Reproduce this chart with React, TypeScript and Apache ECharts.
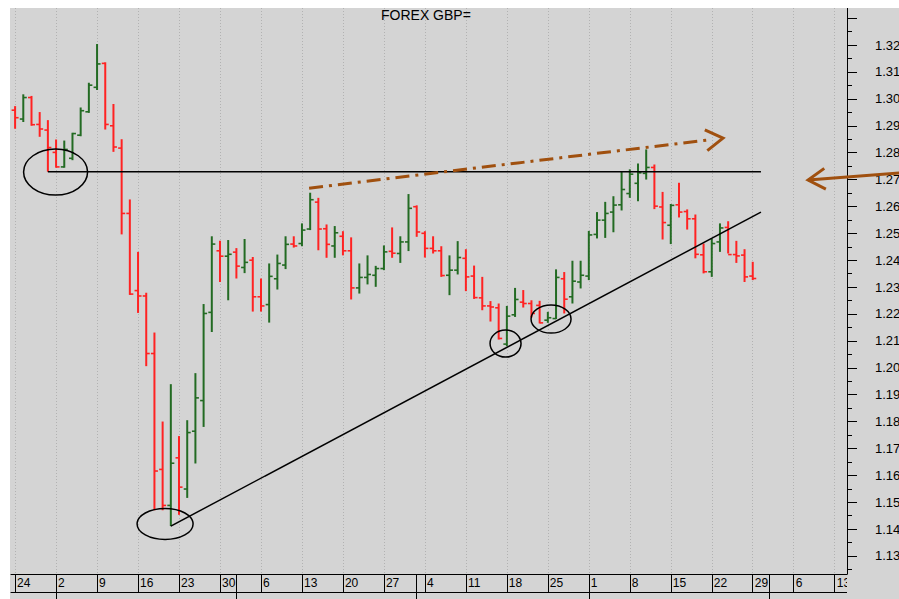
import React, { useEffect, useRef } from 'react';
import * as echarts from 'echarts';

// ---- categories (trading days, padded to the right edge of the axis) ----
const dates: string[] = [
  '2020-02-24', '2020-02-25', '2020-02-26', '2020-02-27', '2020-02-28',
  '2020-03-02', '2020-03-03', '2020-03-04', '2020-03-05', '2020-03-06',
  '2020-03-09', '2020-03-10', '2020-03-11', '2020-03-12', '2020-03-13',
  '2020-03-16', '2020-03-17', '2020-03-18', '2020-03-19', '2020-03-20',
  '2020-03-23', '2020-03-24', '2020-03-25', '2020-03-26', '2020-03-27',
  '2020-03-30', '2020-03-31', '2020-04-01', '2020-04-02', '2020-04-03',
  '2020-04-06', '2020-04-07', '2020-04-08', '2020-04-09', '2020-04-10',
  '2020-04-13', '2020-04-14', '2020-04-15', '2020-04-16', '2020-04-17',
  '2020-04-20', '2020-04-21', '2020-04-22', '2020-04-23', '2020-04-24',
  '2020-04-27', '2020-04-28', '2020-04-29', '2020-04-30', '2020-05-01',
  '2020-05-04', '2020-05-05', '2020-05-06', '2020-05-07', '2020-05-08',
  '2020-05-11', '2020-05-12', '2020-05-13', '2020-05-14', '2020-05-15',
  '2020-05-18', '2020-05-19', '2020-05-20', '2020-05-21', '2020-05-22',
  '2020-05-25', '2020-05-26', '2020-05-27', '2020-05-28', '2020-05-29',
  '2020-06-01', '2020-06-02', '2020-06-03', '2020-06-04', '2020-06-05',
  '2020-06-08', '2020-06-09', '2020-06-10', '2020-06-11', '2020-06-12',
  '2020-06-15', '2020-06-16', '2020-06-17', '2020-06-18', '2020-06-19',
  '2020-06-22', '2020-06-23', '2020-06-24', '2020-06-25', '2020-06-26',
  '2020-06-29', '2020-06-30', '2020-07-01', '2020-07-02', '2020-07-03',
  '2020-07-06', '2020-07-07', '2020-07-08', '2020-07-09', '2020-07-10',
  '2020-07-13', '2020-07-14',
];

// ---- OHLC values ----
const opens: number[] = [
  1.2958, 1.2925, 1.3005, 1.2905, 1.2884,
  1.2801, 1.2747, 1.2779, 1.2865, 1.2952,
  1.3043, 1.3132, 1.2900, 1.2817, 1.2574,
  1.2287, 1.2267, 1.2053, 1.1622, 1.1488,
  1.1665, 1.1549, 1.1764, 1.1878, 1.2206,
  1.2435, 1.2415, 1.2430, 1.2373, 1.2400,
  1.2264, 1.2235, 1.2331, 1.2382, 1.2460,
  1.2462, 1.2516, 1.2616, 1.2517, 1.2453,
  1.2489, 1.2435, 1.2297, 1.2336, 1.2344,
  1.2369, 1.2433, 1.2425, 1.2468, 1.2599,
  1.2500, 1.2444, 1.2435, 1.2344, 1.2363,
  1.2407, 1.2341, 1.2260, 1.2230, 1.2223,
  1.2088, 1.2197, 1.2244, 1.2239, 1.2232,
  1.2177, 1.2183, 1.2331, 1.2264, 1.2319,
  1.2341, 1.2496, 1.2549, 1.2579, 1.2606,
  1.2648, 1.2686, 1.2723, 1.2745, 1.2598,
  1.2530, 1.2606, 1.2581, 1.2554, 1.2420,
  1.2357, 1.2468, 1.2522, 1.2421, 1.2419,
  1.2341,
];
const highs: number[] = [
  1.2973, 1.3017, 1.3011, 1.2951, 1.2921,
  1.2849, 1.2845, 1.2874, 1.2968, 1.3060,
  1.3204, 1.3136, 1.2981, 1.2850, 1.2626,
  1.2431, 1.2279, 1.2131, 1.1800, 1.1939,
  1.1746, 1.1805, 1.1980, 1.2237, 1.2489,
  1.2472, 1.2475, 1.2445, 1.2479, 1.2412,
  1.2332, 1.2388, 1.2421, 1.2489, 1.2489,
  1.2537, 1.2651, 1.2632, 1.2533, 1.2527,
  1.2508, 1.2485, 1.2388, 1.2418, 1.2379,
  1.2455, 1.2522, 1.2489, 1.2646, 1.2604,
  1.2508, 1.2489, 1.2452, 1.2418, 1.2471,
  1.2441, 1.2380, 1.2338, 1.2248, 1.2239,
  1.2230, 1.2297, 1.2289, 1.2251, 1.2249,
  1.2208, 1.2366, 1.2356, 1.2398, 1.2398,
  1.2509, 1.2579, 1.2617, 1.2638, 1.2729,
  1.2738, 1.2760, 1.2812, 1.2756, 1.2654,
  1.2609, 1.2688, 1.2589, 1.2570, 1.2462,
  1.2481, 1.2537, 1.2545, 1.2472, 1.2441,
  1.2394,
];
const lows: number[] = [
  1.2889, 1.2914, 1.2900, 1.2859, 1.2729,
  1.2744, 1.2744, 1.2772, 1.2861, 1.2948,
  1.3033, 1.2886, 1.2803, 1.2496, 1.2271,
  1.2204, 1.2006, 1.1470, 1.1470, 1.1411,
  1.1453, 1.1516, 1.1644, 1.1780, 1.2133,
  1.2319, 1.2251, 1.2332, 1.2352, 1.2209,
  1.2209, 1.2168, 1.2291, 1.2367, 1.2447,
  1.2452, 1.2512, 1.2437, 1.2409, 1.2409,
  1.2418, 1.2254, 1.2276, 1.2310, 1.2301,
  1.2363, 1.2409, 1.2390, 1.2434, 1.2487,
  1.2410, 1.2425, 1.2338, 1.2270, 1.2347,
  1.2285, 1.2256, 1.2214, 1.2172, 1.2105,
  1.2080, 1.2189, 1.2224, 1.2187, 1.2165,
  1.2167, 1.2181, 1.2202, 1.2239, 1.2295,
  1.2326, 1.2481, 1.2483, 1.2504, 1.2585,
  1.2632, 1.2619, 1.2700, 1.2590, 1.2477,
  1.2460, 1.2559, 1.2514, 1.2407, 1.2351,
  1.2338, 1.2431, 1.2425, 1.2390, 1.2319,
  1.2326,
];
const closes: number[] = [
  1.2930, 1.3005, 1.2904, 1.2888, 1.2819,
  1.2747, 1.2812, 1.2871, 1.2956, 1.3051,
  1.3130, 1.2905, 1.2821, 1.2574, 1.2274,
  1.2267, 1.2053, 1.1616, 1.1488, 1.1645,
  1.1556, 1.1759, 1.1888, 1.2202, 1.2460,
  1.2415, 1.2422, 1.2378, 1.2392, 1.2264,
  1.2230, 1.2340, 1.2388, 1.2459, 1.2453,
  1.2512, 1.2625, 1.2516, 1.2459, 1.2502,
  1.2435, 1.2297, 1.2336, 1.2347, 1.2369,
  1.2431, 1.2426, 1.2468, 1.2593, 1.2505,
  1.2444, 1.2435, 1.2343, 1.2363, 1.2410,
  1.2338, 1.2261, 1.2230, 1.2226, 1.2109,
  1.2192, 1.2254, 1.2239, 1.2202, 1.2167,
  1.2186, 1.2336, 1.2255, 1.2322, 1.2344,
  1.2494, 1.2549, 1.2574, 1.2605, 1.2663,
  1.2720, 1.2725, 1.2745, 1.2601, 1.2540,
  1.2604, 1.2579, 1.2554, 1.2422, 1.2357,
  1.2462, 1.2520, 1.2421, 1.2416, 1.2338,
  1.2332,
];

// ---- price axis ----
const yMin = 1.1233;
const yMax = 1.3338;
const yMajorTicks: number[] = [1.13, 1.14, 1.15, 1.16, 1.17, 1.18, 1.19, 1.20, 1.21, 1.22, 1.23, 1.24, 1.25, 1.26, 1.27, 1.28, 1.29, 1.30, 1.31, 1.32, 1.33];
const yTickLabels: number[] = [1.13, 1.14, 1.15, 1.16, 1.17, 1.18, 1.19, 1.20, 1.21, 1.22, 1.23, 1.24, 1.25, 1.26, 1.27, 1.28, 1.29, 1.30, 1.31, 1.32];
const yMinorTicks: number[] = [1.125, 1.135, 1.145, 1.155, 1.165, 1.175, 1.185, 1.195, 1.205, 1.215, 1.225, 1.235, 1.245, 1.255, 1.265, 1.275, 1.285, 1.295, 1.305, 1.315, 1.325];

const titleText = 'FOREX GBP=';

// ---- hand-drawn annotations, as [dayIndex, price] anchors ----
const blackLines: number[][] = [
  [4, 1.2729, 91, 1.2729],   // neckline from the 28 Feb low
  [19, 1.1411, 91, 1.2579],  // rising trend line from the 20 Mar low
];
const brownArrows: number[][] = [
  [35.87, 1.2668, 86.37, 1.2854], // dash-dot projection (tail -> tip)
  [110, 1.2729, 96.75, 1.2698],   // arrow at right edge (tail -> tip)
];
const circleCentres: number[][] = [
  [4.94, 1.2728],
  [18.3, 1.1419],
  [59.84, 1.2090],
  [65.39, 1.2181],
];
const CIRCLE_RADII: number[][] = [[32, 23], [28, 15.5], [15.5, 13.5], [20, 14]];

const GREEN = '#236b23';
const RED = '#ff2222';
const BROWN = '#a0500f';
const BG = '#d4d4d4';
const FONT = '"Liberation Sans", Arial, sans-serif';

function isMonday(s: string): boolean {
  const [y, m, d] = s.split('-').map(Number);
  return new Date(Date.UTC(y, m - 1, d)).getUTCDay() === 1;
}
function isMonthStart(i: number): boolean {
  return i > 0 && dates[i].slice(5, 7) !== dates[i - 1].slice(5, 7);
}
function pt(api: any, i: number, v: number): number[] {
  const a = api.coord([0, v]);
  const b = api.coord([1, v]);
  return [a[0] + (b[0] - a[0]) * i, a[1]];
}

export default function App() {
  const ref = useRef<HTMLDivElement>(null);

  useEffect(() => {
    if (!ref.current) return;
    const chart = echarts.init(ref.current, null, { renderer: 'svg' });

    const option: any = {
      animation: false,
      backgroundColor: BG,
      textStyle: { fontFamily: FONT },
      title: {
        text: titleText,
        left: 371,
        top: 0,
        padding: 0,
        textStyle: { fontSize: 14, fontWeight: 'normal', color: '#000', fontFamily: FONT },
      },
      grid: { left: 1, right: 52, top: 0, bottom: 25, outerBoundsMode: 'none', containLabel: false },
      xAxis: [
        {
          type: 'category',
          data: dates,
          boundaryGap: true,
          position: 'bottom',
          axisLine: { show: true, lineStyle: { color: '#000', width: 1 } },
          axisTick: {
            show: true,
            alignWithLabel: true,
            length: 18,
            interval: (i: number, v: string) => isMonday(v) || isMonthStart(i),
            lineStyle: { color: '#000', width: 1 },
          },
          axisLabel: {
            show: true,
            interval: (_i: number, v: string) => isMonday(v),
            formatter: (v: string) => String(Number(v.slice(8, 10))),
            align: 'left',
            verticalAlign: 'middle',
            margin: 9,
            padding: [0, 0, 0, 2],
            fontSize: 12,
            color: '#000',
            fontFamily: FONT,
          },
          splitLine: {
            show: true,
            alignWithLabel: true,
            interval: (_i: number, v: string) => isMonday(v),
            lineStyle: { color: '#b2b2b2', width: 1, type: [1, 2] },
          },
        },
        {
          type: 'category',
          data: dates,
          boundaryGap: true,
          position: 'bottom',
          offset: 18,
          axisLine: { show: true, lineStyle: { color: '#000', width: 1 } },
          axisTick: {
            show: true,
            alignWithLabel: true,
            length: 8,
            interval: (i: number) => isMonthStart(i),
            lineStyle: { color: '#000', width: 1 },
          },
          axisLabel: { show: false },
          splitLine: { show: false },
        },
      ],
      yAxis: [
        {
          type: 'value',
          position: 'right',
          min: yMin,
          max: yMax,
          axisLine: { show: true, lineStyle: { color: '#000', width: 1 } },
          axisTick: { show: true, length: 10, customValues: yMajorTicks, lineStyle: { color: '#000', width: 1 } },
          axisLabel: {
            show: true,
            customValues: yTickLabels,
            formatter: (v: number) => v.toFixed(2),
            margin: 28,
            fontSize: 13,
            color: '#000',
            fontFamily: FONT,
          },
          splitLine: { show: false },
        },
        {
          type: 'value',
          position: 'right',
          min: yMin,
          max: yMax,
          axisLine: { show: false },
          axisTick: { show: true, length: 5, customValues: yMinorTicks, lineStyle: { color: '#000', width: 1 } },
          axisLabel: { show: false },
          splitLine: { show: false },
        },
      ],
      graphic: [
        {
          type: 'rect',
          right: 0,
          bottom: 0,
          shape: { width: 52, height: 24 },
          style: { fill: BG },
          z: 100,
        },
      ],
      series: [
        {
          type: 'custom',
          name: 'GBP=',
          xAxisIndex: 0,
          yAxisIndex: 0,
          clip: false,
          data: opens.map((o, i) => [i, o, highs[i], lows[i], closes[i]]),
          encode: { x: 0, y: [1, 2, 3, 4] },
          renderItem: (params: any, api: any) => {
            const i = params.dataIndex;
            const o = api.coord([i, opens[i]]);
            const h = api.coord([i, highs[i]]);
            const l = api.coord([i, lows[i]]);
            const c = api.coord([i, closes[i]]);
            const color = closes[i] >= opens[i] ? GREEN : RED;
            return {
              type: 'group',
              children: [
                { type: 'line', shape: { x1: h[0], y1: h[1], x2: l[0], y2: l[1] }, style: { stroke: color, lineWidth: 2 } },
                { type: 'line', shape: { x1: o[0] - 3.5, y1: o[1], x2: o[0], y2: o[1] }, style: { stroke: color, lineWidth: 1.6 } },
                { type: 'line', shape: { x1: c[0], y1: c[1], x2: c[0] + 3.5, y2: c[1] }, style: { stroke: color, lineWidth: 1.6 } },
              ],
            };
          },
          z: 2,
        },
        {
          type: 'custom',
          name: 'lines',
          xAxisIndex: 0,
          yAxisIndex: 0,
          clip: false,
          data: blackLines.map((l) => [l[0], l[1]]),
          encode: { x: 0, y: 1 },
          renderItem: (params: any, api: any) => {
            const l = blackLines[params.dataIndex];
            const p0 = pt(api, l[0], l[1]);
            const p1 = pt(api, l[2], l[3]);
            return {
              type: 'line',
              shape: { x1: p0[0], y1: p0[1], x2: p1[0], y2: p1[1] },
              style: { stroke: '#000', lineWidth: 1.5, fill: 'none' },
            };
          },
          z: 3,
        },
        {
          type: 'custom',
          name: 'circles',
          xAxisIndex: 0,
          yAxisIndex: 0,
          clip: false,
          data: circleCentres.map((c) => [c[0], c[1]]),
          encode: { x: 0, y: 1 },
          renderItem: (params: any, api: any) => {
            const c = circleCentres[params.dataIndex];
            const r = CIRCLE_RADII[params.dataIndex];
            const p = pt(api, c[0], c[1]);
            return {
              type: 'ellipse',
              shape: { cx: p[0], cy: p[1], rx: r[0], ry: r[1] },
              style: { stroke: '#000', lineWidth: 1.5, fill: 'none' },
            };
          },
          z: 3,
        },
        {
          type: 'custom',
          name: 'arrows',
          xAxisIndex: 0,
          yAxisIndex: 0,
          clip: false,
          data: brownArrows.map((a) => [a[2], a[3]]),
          encode: { x: 0, y: 1 },
          renderItem: (params: any, api: any) => {
            const a = brownArrows[params.dataIndex];
            const p0 = pt(api, a[0], a[1]);
            const p1 = pt(api, a[2], a[3]);
            const dx = p1[0] - p0[0];
            const dy = p1[1] - p0[1];
            const len = Math.hypot(dx, dy);
            const ux = dx / len;
            const uy = dy / len;
            const L = 20;
            const th = 0.55;
            const arm = (s: number) => {
              const cs = Math.cos(s * th);
              const sn = Math.sin(s * th);
              const rx = ux * cs - uy * sn;
              const ry = ux * sn + uy * cs;
              return [p1[0] - L * rx, p1[1] - L * ry];
            };
            const dashed = params.dataIndex === 0;
            const end = dashed ? [p1[0] - 16 * ux, p1[1] - 16 * uy] : p1;
            return {
              type: 'group',
              children: [
                {
                  type: 'line',
                  shape: { x1: p0[0], y1: p0[1], x2: end[0], y2: end[1] },
                  style: dashed
                    ? { stroke: BROWN, lineWidth: 3, lineDash: [14, 6, 3, 6], fill: 'none' }
                    : { stroke: BROWN, lineWidth: 3, fill: 'none' },
                },
                {
                  type: 'polyline',
                  shape: { points: [arm(1), p1, arm(-1)] },
                  style: { stroke: BROWN, lineWidth: 3, fill: 'none' },
                },
              ],
            };
          },
          z: 4,
        },
      ],
    };

    chart.setOption(option);
    return () => {
      chart.dispose();
    };
  }, []);

  return (
    <div
      ref={ref}
      style={{ position: 'fixed', left: 10, top: 8, width: 889, height: 591, background: BG }}
    />
  );
}
